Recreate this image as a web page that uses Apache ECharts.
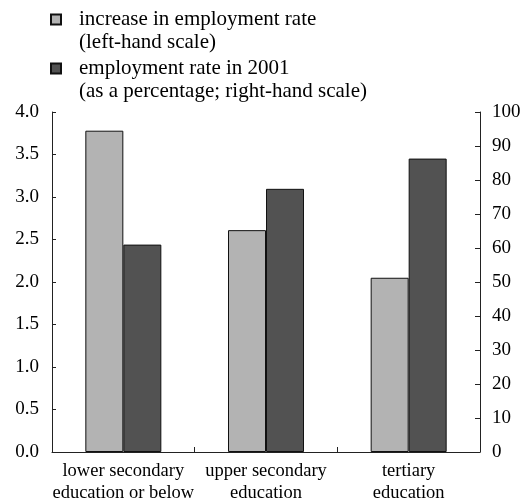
<!DOCTYPE html>
<html>
<head>
<meta charset="utf-8">
<script src="https://cdn.jsdelivr.net/npm/echarts@6/dist/echarts.min.js"></script>
<style>html,body{margin:0;padding:0;background:#fff}#c{width:525px;height:504px}</style>
</head>
<body>
<div id="c"></div>
<script>
var categories = ['lower secondary\neducation or below', 'upper secondary\neducation', 'tertiary\neducation'];
var increaseValues = [3.78, 2.61, 2.05];
var rate2001Values = [61, 77.4, 86.3];
var seriesNames = ['increase in employment rate', 'employment rate in 2001'];
var seriesSubtitles = ['(left-hand scale)', '(as a percentage; right-hand scale)'];

var FONT = '"Liberation Serif", "Times New Roman", serif';
var chart = echarts.init(document.getElementById('c'), null, {renderer: 'canvas'});
var axisLine = {show: true, lineStyle: {color: '#222', width: 1}};
chart.setOption({
  animation: false,
  textStyle: {fontFamily: FONT, color: '#000'},
  grid: {left: 52, right: 45, top: 112, bottom: 50.5, containLabel: false},
  legend: {
    orient: 'vertical',
    left: 50, top: -15,
    padding: 0,
    itemGap: -20,
    itemWidth: 10, itemHeight: 10,
    icon: 'rect',
    selectedMode: false,
    data: seriesNames,
    formatter: function (name) {
      var i = seriesNames.indexOf(name);
      return ' \n' + name + '\n' + seriesSubtitles[i];
    },
    textStyle: {fontFamily: FONT, fontSize: 21, color: '#000', lineHeight: 23, padding: [0, 0, 0, 13]}
  },
  xAxis: {
    type: 'category',
    data: categories,
    axisLine: axisLine,
    axisTick: {show: true, inside: true, length: 5, lineStyle: {color: '#222'}},
    axisLabel: {fontFamily: FONT, fontSize: 18.5, color: '#000', lineHeight: 22, margin: 8,
      interval: 0, hideOverlap: false}
  },
  yAxis: [{
    type: 'value', min: 0, max: 4, interval: 0.5,
    axisLine: axisLine,
    axisTick: {show: true, inside: true, length: 4, lineStyle: {color: '#222'}},
    splitLine: {show: false},
    axisLabel: {fontFamily: FONT, fontSize: 19, color: '#000', margin: 13,
      formatter: function (v) { return v.toFixed(1); }}
  }, {
    type: 'value', min: 0, max: 100, interval: 10, position: 'right',
    axisLine: axisLine,
    axisTick: {show: true, inside: true, length: 5, lineStyle: {color: '#222'}},
    splitLine: {show: false},
    axisLabel: {fontFamily: FONT, fontSize: 19, color: '#000', margin: 12}
  }],
  series: [{
    name: seriesNames[0], type: 'bar', yAxisIndex: 0, data: increaseValues,
    barWidth: 38, barGap: '0%',
    itemStyle: {color: '#b3b3b3', borderColor: '#111', borderWidth: 1}
  }, {
    name: seriesNames[1], type: 'bar', yAxisIndex: 1, data: rate2001Values,
    barWidth: 38, barGap: '0%',
    itemStyle: {color: '#525252', borderColor: '#111', borderWidth: 1}
  }]
});
</script>
</body>
</html>
